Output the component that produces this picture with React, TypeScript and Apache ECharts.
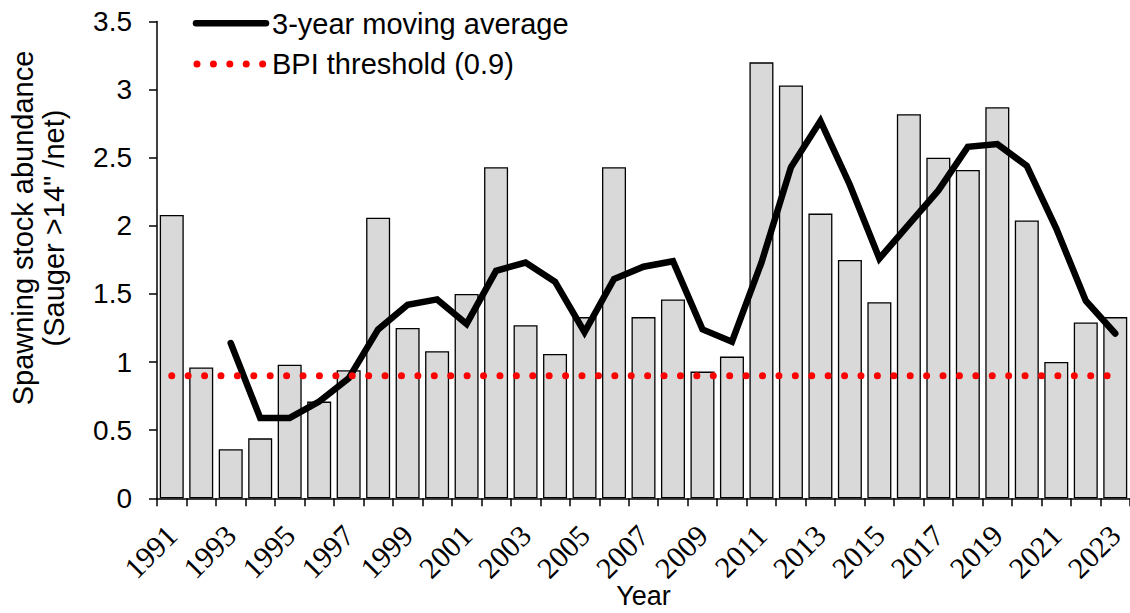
import React, { useEffect, useRef } from "react";
import * as echarts from "echarts";

// Survey years
const years: string[] = [
  "1991", "1992", "1993", "1994", "1995", "1996", "1997", "1998", "1999", "2000",
  "2001", "2002", "2003", "2004", "2005", "2006", "2007", "2008", "2009", "2010",
  "2011", "2012", "2013", "2014", "2015", "2016", "2017", "2018", "2019", "2020",
  "2021", "2022", "2023",
];

// Annual spawning stock abundance (Sauger >14" per net)
const abundance: number[] = [
  2.08, 0.96, 0.36, 0.44, 0.98, 0.71, 0.94, 2.06, 1.25, 1.08,
  1.5, 2.43, 1.27, 1.06, 1.33, 2.43, 1.33, 1.46, 0.93, 1.04,
  3.2, 3.03, 2.09, 1.75, 1.44, 2.82, 2.5, 2.41, 2.87, 2.04,
  1.0, 1.29, 1.33,
];

// 3-year moving average (first two years have no value)
const movingAverage: (number | null)[] = [
  null, null, 1.14, 0.59, 0.59, 0.71, 0.88, 1.24, 1.42, 1.46,
  1.28, 1.67, 1.73, 1.59, 1.22, 1.61, 1.7, 1.74, 1.24, 1.15,
  1.73, 2.43, 2.77, 2.3, 1.76, 2.01, 2.26, 2.58, 2.6, 2.44,
  1.98, 1.45, 1.21,
];

// BPI threshold level
const bpiThreshold = 0.9;
const thresholdLine: number[] = years.map(() => bpiThreshold);

const maName = "3-year moving average";
const bpiName = "BPI threshold (0.9)";
const xTitle = "Year";
const yTitle = 'Spawning stock abundance\n(Sauger >14" /net)';

const SANS = '"Liberation Sans", Arial, sans-serif';
const SERIF = '"Liberation Serif", "Times New Roman", serif';

const MA_STYLE = { color: "#000", width: 6.5, cap: "round", join: "miter" };
const BPI_DASH = [0.01, 16.4];

export default function App() {
  const ref = useRef<HTMLDivElement>(null);

  useEffect(() => {
    if (!ref.current) return;
    const chart = echarts.init(ref.current, undefined, { renderer: "svg" });
    chart.setOption({
      animation: false,
      backgroundColor: "#ffffff",
      grid: {
        left: 157,
        top: 21.5,
        right: 0,
        bottom: 114.7,
        containLabel: false,
        outerBoundsMode: "none",
      },
      graphic: [
        // legend: moving average
        {
          type: "line",
          shape: { x1: 196, y1: 23.3, x2: 266, y2: 23.3 },
          style: { stroke: "#000", lineWidth: 6.5, lineCap: "round" },
        },
        {
          type: "text",
          x: 272,
          y: 23.5,
          style: {
            text: maName,
            font: `29px ${SANS}`,
            fill: "#000",
            textAlign: "left",
            textVerticalAlign: "middle",
          },
        },
        // legend: threshold
        {
          type: "line",
          shape: { x1: 197, y1: 64, x2: 264, y2: 64 },
          style: { stroke: "#ff0000", lineWidth: 7, lineCap: "round", lineDash: BPI_DASH },
        },
        {
          type: "text",
          x: 272,
          y: 64,
          style: {
            text: bpiName,
            font: `29px ${SANS}`,
            fill: "#000",
            textAlign: "left",
            textVerticalAlign: "middle",
          },
        },
        // y-axis title
        {
          type: "text",
          x: 38.5,
          y: 228,
          rotation: Math.PI / 2,
          style: {
            text: yTitle,
            font: `29px ${SANS}`,
            lineHeight: 31,
            fill: "#000",
            textAlign: "center",
            textVerticalAlign: "middle",
          },
        },
        // x-axis title
        {
          type: "text",
          x: 643.5,
          y: 596,
          style: {
            text: xTitle,
            font: `27px ${SANS}`,
            fill: "#000",
            textAlign: "center",
            textVerticalAlign: "middle",
          },
        },
      ],
      xAxis: {
        type: "category",
        data: years,
        boundaryGap: true,
        axisLine: { lineStyle: { color: "#000", width: 1.5 } },
        axisTick: { show: true, interval: 0, length: 8, lineStyle: { color: "#000", width: 1.5 } },
        axisLabel: {
          interval: 1,
          rotate: 45,
          margin: 32,
          fontFamily: SERIF,
          fontSize: 30,
          color: "#000",
        },
      },
      yAxis: {
        type: "value",
        min: 0,
        max: 3.5,
        interval: 0.5,
        axisLine: { show: true, lineStyle: { color: "#000", width: 1.5 } },
        axisTick: { show: true, length: 8, lineStyle: { color: "#000", width: 1.5 } },
        axisLabel: { margin: 25, fontFamily: SANS, fontSize: 28, color: "#000" },
        splitLine: { show: false },
      },
      series: [
        {
          name: "Abundance",
          type: "bar",
          data: abundance,
          barWidth: 24,
          itemStyle: { color: "#d9d9d9", borderColor: "#000", borderWidth: 1.3 },
          z: 1,
        },
        {
          name: maName,
          type: "line",
          data: movingAverage,
          symbol: "none",
          connectNulls: false,
          lineStyle: MA_STYLE,
          itemStyle: { color: "#000" },
          z: 2,
        },
        {
          name: bpiName,
          type: "line",
          data: thresholdLine,
          symbol: "none",
          lineStyle: { color: "#ff0000", width: 7, type: BPI_DASH, cap: "round" },
          itemStyle: { color: "#ff0000" },
          z: 3,
        },
      ],
    });
    return () => chart.dispose();
  }, []);

  return (
    <div
      ref={ref}
      style={{ position: "fixed", left: 0, top: 0, width: 1130, height: 613, background: "#fff" }}
    />
  );
}
